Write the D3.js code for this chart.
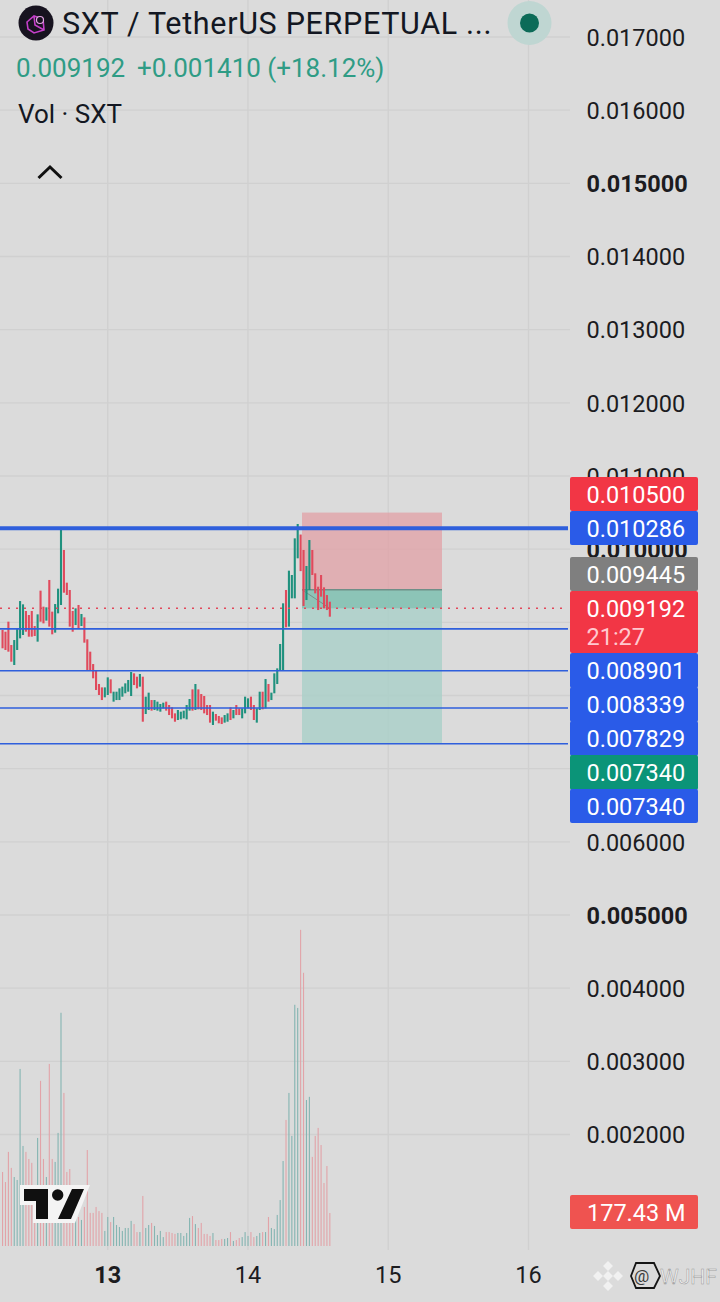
<!DOCTYPE html>
<html>
<head>
<meta charset="utf-8">
<script src="https://cdn.jsdelivr.net/npm/d3@7"></script>
<style>
    html, body { margin: 0; padding: 0; background: #dbdbdb; }
    svg { display: block; font-family: Roboto, sans-serif; }
</style>
</head>
<body>
<div id="chart"></div>
<script>
// prices are in millionths of a USDT
var gridPrices = [17000, 16000, 15000, 14000, 13000, 12000, 11000, 10000, 9000, 8000, 7000, 6000, 5000, 4000, 3000, 2000];
// 9000, 8000 and 7000 sit fully under the side labels, so no text for them
var priceTicks = [17000, 16000, 15000, 14000, 13000, 12000, 11000, 10000, 6000, 5000, 4000, 3000, 2000];
var boldPrices = [15000, 10000, 5000];
var dayTicks = [13, 14, 15, 16];
var boldDays = [13];

var candleOpen = [8895, 8872, 9009, 8690, 8417, 8622, 8781, 8827, 9155, 9100,
    9155, 8950, 8736, 9433, 9214, 9023, 9579, 9146, 8859, 9123,
    9237, 9989, 9542, 9442, 9155, 8963, 9237, 8950, 9068, 8768,
    8599, 8430, 8348, 8157, 8111, 7975, 8007, 8221, 7916, 7938,
    7938, 7984, 8030, 8052, 7993, 8303, 8257, 8121, 8257, 7747,
    7802, 7938, 7802, 7793, 7779, 7824, 7916, 7870,
    7838, 7756, 7665, 7674, 7688, 7674, 7793, 8084, 7802, 8084,
    8020, 7993, 7870, 7870, 7597, 7747, 7720, 7701, 7629, 7642,
    7838, 7688, 7870, 7824, 7688, 7756, 7824, 7984, 7870,
    7629, 7802, 8052, 7824, 8157, 7938, 8030, 8157, 8348, 8348,
    9442, 8941, 9328, 9328, 9875, 10200, 9989, 9305, 9442, 9989, 9670,
    9487, 9647, 9478, 9373, 9282];
var candleClose = [8645, 8622, 8599, 8462, 8758, 8918, 9291, 9246, 8872, 8804,
    8804, 8813, 9109, 9009, 8986, 9205, 8941, 8836, 9250, 9460,
    10271, 9405, 9374, 8941, 8872, 9191, 8918, 9114, 8722, 8348,
    8348, 8235, 8075, 8007, 7938, 8111, 8248, 8030, 8052, 8052,
    8098, 8121, 8166, 8212, 8321, 8143, 8098, 8294, 7642, 7984,
    8039, 7793, 7938, 7916, 7884, 7902, 7793, 7733,
    7688, 7642, 7802, 7779, 7793, 7870, 7952, 7793, 8157, 7811,
    7802, 7756, 7733, 7629, 7779, 7656, 7620, 7610, 7733, 7756,
    7665, 7802, 7733, 7733, 7824, 7984, 7961, 7802, 7665,
    7824, 8052, 7811, 8225, 7916, 8039, 8303, 8371, 8704, 9260,
    8932, 9706, 9647, 10148, 10344, 9700, 9223, 9770, 10125, 9647, 9396,
    9168, 9351, 9191, 9168, 9077];
// volume in millions of SXT
var volume = [398, 344, 506, 420, 371, 355, 952, 538, 506, 468,
    447, 140, 581, 888, 468, 371, 979, 468, 452, 608,
    1254, 823, 398, 414, 156, 178, 156, 140, 210, 516,
    178, 178, 210, 188, 178, 81, 156, 129, 156, 113,
    102, 81, 97, 97, 135, 118, 75, 75, 269, 97,
    113, 124, 108, 59, 81, 48, 75, 75,
    70, 65, 70, 70, 54, 70, 151, 161, 118, 97,
    124, 65, 65, 54, 70, 32, 32, 38, 38, 43,
    75, 27, 32, 43, 48, 75, 54, 75, 48, 54,
    70, 75, 75, 156, 97, 91, 167, 247, 457, 678,
    823, 592, 1297, 1280, 1700, 1469, 785, 802, 479, 592,
    635, 543, 339, 430, 177.43];

var levelPrices = [10286, 8910, 8339, 7829, 7340];
var levelWidths = [4, 1.6, 1.6, 1.6, 1.6];
var lastPrice = 9192;
var stopPrice = 10500;
var entryPrice = 9445;
var targetPrice = 7340;

var sideLabels = ["0.010500", "0.010286", "0.009445", "0.009192", "0.008901", "0.008339", "0.007829", "0.007340", "0.007340"];
var sideColors = ["#f23645", "#2a5be8", "#7f7f7f", "#f23645", "#2a5be8", "#2a5be8", "#2a5be8", "#0b9478", "#2a5be8"];

var width = 720, height = 1302;
var green = "#1f917e", red = "#e04a5c";

var svg = d3.select("#chart").append("svg")
    .attr("width", width)
    .attr("height", height);

svg.append("rect").attr("width", width).attr("height", height).attr("fill", "#dbdbdb");

var y = d3.scaleLinear().domain([17000, 5000]).range([37, 915]);
var x = d3.scaleUtc()
    .domain([new Date(Date.UTC(2024, 5, 13)), new Date(Date.UTC(2024, 5, 16))])
    .range([107.7, 528.5]);
var candleTime = d3.range(candleOpen.length).map(function(i) {
    return new Date(Date.UTC(2024, 5, 12, 6) + i * 30 * 60000);
});
var dayDates = dayTicks.map(function(d) { return new Date(Date.UTC(2024, 5, d)); });
var volY = d3.scaleLinear().domain([0, 177.43]).range([1246, 1213]);

// grid
svg.append("g").selectAll("line")
    .data(gridPrices)
    .enter().append("line")
    .attr("x1", 0).attr("x2", 570)
    .attr("y1", function(d) { return y(d); })
    .attr("y2", function(d) { return y(d); })
    .attr("stroke", "#d0d0d0").attr("stroke-width", 1.4);
svg.append("g").selectAll("line")
    .data(dayDates)
    .enter().append("line")
    .attr("x1", function(d) { return x(d); })
    .attr("x2", function(d) { return x(d); })
    .attr("y1", 0).attr("y2", 1250)
    .attr("stroke", "#d0d0d0").attr("stroke-width", 1.4);

// position tool
var posLeft = 302, posRight = 442;
svg.append("rect")
    .attr("x", posLeft).attr("width", posRight - posLeft)
    .attr("y", y(stopPrice)).attr("height", y(entryPrice) - y(stopPrice))
    .attr("fill", "#e29da3").attr("opacity", 0.7);
svg.append("rect")
    .attr("x", posLeft).attr("width", posRight - posLeft)
    .attr("y", y(entryPrice)).attr("height", y(targetPrice) - y(entryPrice))
    .attr("fill", "#a9d0c8").attr("opacity", 0.8);
svg.append("rect")
    .attr("x", posLeft).attr("width", posRight - posLeft)
    .attr("y", y(entryPrice)).attr("height", y(lastPrice) - y(entryPrice))
    .attr("fill", "#7fbfb0").attr("opacity", 0.75);
svg.append("line")
    .attr("x1", posLeft).attr("x2", posRight)
    .attr("y1", y(entryPrice)).attr("y2", y(entryPrice))
    .attr("stroke", "#6f8f88").attr("stroke-width", 1.4);
svg.append("line")
    .attr("x1", posLeft).attr("x2", x(candleTime[candleTime.length - 1]))
    .attr("y1", y(entryPrice)).attr("y2", y(lastPrice))
    .attr("stroke", "#7a8f8a").attr("stroke-width", 1);

// volume
svg.append("g").selectAll("rect")
    .data(volume)
    .enter().append("rect")
    .attr("x", function(d, i) { return x(candleTime[i]) - 0.5; })
    .attr("width", 1.1)
    .attr("y", function(d) { return volY(d); })
    .attr("height", function(d) { return volY(0) - volY(d); })
    .attr("fill", function(d, i) { return candleClose[i] >= candleOpen[i] ? "#85b5b2" : "#e2a3a8"; });

// candles
svg.append("g").selectAll("rect")
    .data(candleOpen)
    .enter().append("rect")
    .attr("x", function(d, i) { return x(candleTime[i]) - 1; })
    .attr("width", 2.1)
    .attr("y", function(d, i) { return y(Math.max(d, candleClose[i])); })
    .attr("height", function(d, i) { return Math.abs(y(d) - y(candleClose[i])); })
    .attr("fill", function(d, i) { return candleClose[i] >= d ? green : red; });

// level lines
svg.append("g").selectAll("line")
    .data(levelPrices)
    .enter().append("line")
    .attr("x1", 0).attr("x2", 568)
    .attr("y1", function(d) { return y(d); })
    .attr("y2", function(d) { return y(d); })
    .attr("stroke", "#2f5fdc")
    .attr("stroke-width", function(d, i) { return levelWidths[i]; });

svg.append("line")
    .attr("x1", 0).attr("x2", 566)
    .attr("y1", y(lastPrice)).attr("y2", y(lastPrice))
    .attr("stroke", "#e2485a").attr("stroke-width", 1.6)
    .attr("stroke-dasharray", "2,6");

// price axis
var priceAxis = d3.axisRight(y)
    .tickValues(priceTicks)
    .tickSize(0)
    .tickPadding(0)
    .tickFormat(function(d) { return d3.format(".6f")(d / 1e6); });
var priceG = svg.append("g").attr("transform", "translate(586.5,0.8)").call(priceAxis);
priceG.select(".domain").remove();
priceG.selectAll("text")
    .attr("fill", "#1c1c1f")
    .style("font-family", "Roboto, sans-serif")
    .style("font-size", "23.5px")
    .style("font-weight", function(d) { return boldPrices.indexOf(d) >= 0 ? 700 : 400; });

// day axis
var dayAxis = d3.axisBottom(x)
    .tickValues(dayDates)
    .tickSize(0)
    .tickPadding(0)
    .tickFormat(d3.utcFormat("%-d"));
var dayG = svg.append("g").attr("transform", "translate(-0.5,1266)").call(dayAxis);
dayG.select(".domain").remove();
dayG.selectAll("text")
    .attr("fill", "#1c1c1f")
    .style("font-family", "Roboto, sans-serif")
    .style("font-size", "23.5px")
    .style("font-weight", function(d) { return boldDays.indexOf(d.getUTCDate()) >= 0 ? 700 : 400; });

// labels on the price scale, pushed apart like the platform does
var labelTop = [477, 511, 557, 591, 653, 687, 721, 755, 789];
var labelHeight = [34, 34, 34, 62, 35, 35, 35, 35, 34];
var labels = svg.append("g").selectAll("g")
    .data(sideLabels)
    .enter().append("g");
labels.append("rect")
    .attr("x", 570).attr("width", 128).attr("rx", 2)
    .attr("y", function(d, i) { return labelTop[i]; })
    .attr("height", function(d, i) { return labelHeight[i]; })
    .attr("fill", function(d, i) { return sideColors[i]; });
labels.append("text")
    .attr("x", 586.5)
    .attr("y", function(d, i) { return labelTop[i] + 26; })
    .attr("fill", "#fff")
    .style("font-size", "23.5px")
    .text(function(d) { return d; });
svg.append("text")
    .attr("x", 586.5).attr("y", 645)
    .attr("fill", "#ffc9cf")
    .style("font-size", "23.5px")
    .text("21:27");

svg.append("rect")
    .attr("x", 570).attr("y", 1195).attr("width", 128).attr("height", 34).attr("rx", 2)
    .attr("fill", "#ef5350");
svg.append("text")
    .attr("x", 587).attr("y", 1221)
    .attr("fill", "#fff")
    .style("font-size", "23.5px")
    .text("177.43 M");

// header
svg.append("circle").attr("cx", 36).attr("cy", 23).attr("r", 17.5).attr("fill", "#17131f");
svg.append("path")
    .attr("d", "M27 22 L34 16 L43 19 L44 30 L34 33 L28 29 Z M34 16 L35 25 L44 30")
    .attr("fill", "none").attr("stroke", "#c43fc9").attr("stroke-width", 1.6);
svg.append("circle").attr("cx", 40).attr("cy", 20).attr("r", 3.5)
    .attr("fill", "#17131f").attr("stroke", "#e6a6e6").attr("stroke-width", 1.2);
svg.append("text")
    .attr("x", 62).attr("y", 34)
    .attr("fill", "#131722")
    .style("font-size", "30.5px")
    .style("letter-spacing", "0.67px")
    .text("SXT / TetherUS PERPETUAL ...");
svg.append("circle").attr("cx", 529.5).attr("cy", 23).attr("r", 22).attr("fill", "#bfd6d2");
svg.append("circle").attr("cx", 529.5).attr("cy", 23).attr("r", 9.5).attr("fill", "#0c6b58");
svg.append("text")
    .attr("x", 16).attr("y", 77)
    .attr("fill", "#2f9c85")
    .style("font-size", "26px")
    .text("0.009192");
svg.append("text")
    .attr("x", 137).attr("y", 77)
    .attr("fill", "#2f9c85")
    .style("font-size", "26px")
    .text("+0.001410 (+18.12%)");
svg.append("text")
    .attr("x", 18).attr("y", 123)
    .attr("fill", "#131722")
    .style("font-size", "26px")
    .text("Vol · SXT");
svg.append("path")
    .attr("d", "M38.5 178 L50 167 L61.5 178")
    .attr("fill", "none").attr("stroke", "#111").attr("stroke-width", 3);

// tradingview mark
svg.append("path")
    .attr("d", "M20 1185 L90 1185 L75 1223 L33 1223 L33 1205 L20 1205 Z")
    .attr("fill", "#f4f4f4");
svg.append("path")
    .attr("d", "M24 1189 L48 1189 L48 1219 L36 1219 L36 1201 L24 1201 Z M72 1189 L84 1189 L71 1219 L58 1219 Z")
    .attr("fill", "#101010");
svg.append("circle").attr("cx", 57.7).attr("cy", 1195).attr("r", 5.7).attr("fill", "#101010");

// watermark
var wm = svg.append("g");
[[608, 1266], [608, 1286], [598, 1276], [618, 1276], [608, 1276]].forEach(function(p) {
    wm.append("rect")
        .attr("x", p[0] - 3.5).attr("y", p[1] - 3.5)
        .attr("width", 7).attr("height", 7)
        .attr("transform", "rotate(45," + p[0] + "," + p[1] + ")")
        .attr("fill", "#f1f1f1");
});
wm.append("path")
    .attr("d", "M636 1263 L654 1263 L660 1276 L654 1288 L636 1288 L631 1276 Z")
    .attr("fill", "none").attr("stroke", "#151515").attr("stroke-width", 1.8);
wm.append("text")
    .attr("x", 634).attr("y", 1282)
    .attr("fill", "#3a3a3a")
    .style("font-size", "17px")
    .text("@");
wm.append("text")
    .attr("x", 660).attr("y", 1284)
    .attr("fill", "#efefef")
    .attr("stroke", "#9a9a9a").attr("stroke-width", 0.5)
    .style("font-size", "21px")
    .text("WJHF");
</script>
</body>
</html>
